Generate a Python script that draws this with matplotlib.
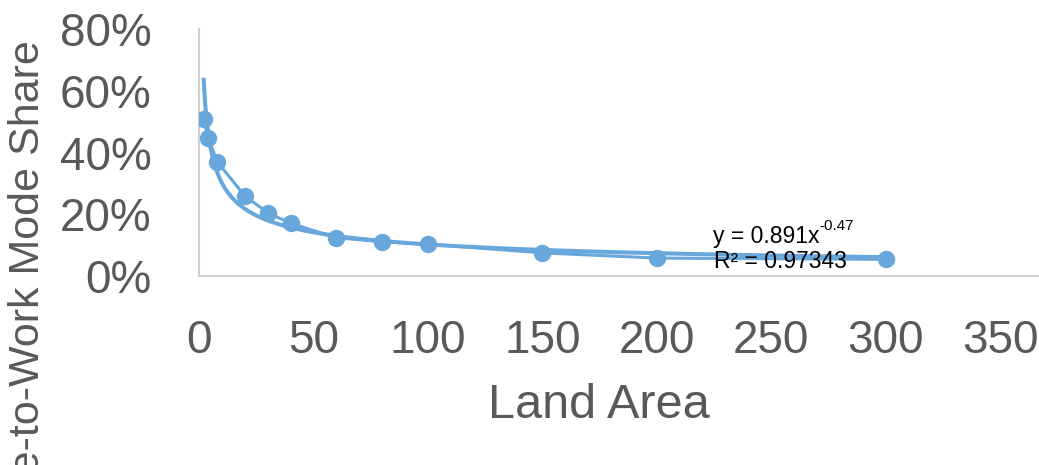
#!/usr/bin/env python3
# Mode share vs land area, with power-law trendline (Excel-style scatter).

import matplotlib
matplotlib.use("Agg")
import matplotlib.pyplot as plt
import numpy as np
from matplotlib.ticker import FuncFormatter

# --- Data ---
land_area = [2, 4, 8, 20, 30, 40, 60, 80, 100, 150, 200, 300]
mode_share = [0.509, 0.448, 0.370, 0.260, 0.205, 0.171, 0.124, 0.111,
              0.103, 0.075, 0.058, 0.054]

# Power trendline coefficients as printed on the chart
TREND_A = 0.891
TREND_B = -0.47
TREND_R2 = "0.97343"

x_ticks = [0, 50, 100, 150, 200, 250, 300, 350]
y_ticks = [0.0, 0.2, 0.4, 0.6, 0.8]

BLUE = "#67A7DC"
GREY = "#595959"
AXIS_GREY = "#D0D0D0"


def main():
    plt.rcParams["font.family"] = ["Liberation Sans", "DejaVu Sans"]

    fig = plt.figure(figsize=(10.39, 4.65), dpi=100)
    ax = fig.add_axes([0.1915, 0.4065, 0.8085, 0.5305])

    # trendline over the data range
    xt = np.linspace(min(land_area), max(land_area), 400)
    ax.plot(xt, TREND_A * xt ** TREND_B, color=BLUE, linewidth=2.9,
            solid_capstyle="butt", zorder=2)

    ax.plot(land_area, mode_share, color=BLUE, linewidth=2.2,
            marker="o", markersize=11.5, zorder=3)

    ax.set_xlim(0, 367)
    ax.set_ylim(0, 0.8)
    ax.set_xticks(x_ticks)
    ax.set_yticks(y_ticks)
    ax.yaxis.set_major_formatter(FuncFormatter(lambda v, _: f"{v * 100:.0f}%"))
    ax.tick_params(axis="both", length=0, labelsize=33, colors=GREY)
    ax.tick_params(axis="x", pad=31)
    ax.tick_params(axis="y", pad=34)

    for side in ("top", "right"):
        ax.spines[side].set_visible(False)
    for side in ("left", "bottom"):
        ax.spines[side].set_color(AXIS_GREY)
        ax.spines[side].set_linewidth(1.5)

    fig.text(0.576, 1 - 405 / 465, "Land Area", ha="center", va="center",
             fontsize=35, color=GREY)
    fig.text(0.027, 1 - 40 / 465, "Bike-to-Work Mode Share", rotation=90,
             ha="center", va="top", fontsize=31, color=GREY)

    # trendline label
    eq = fig.text(766 / 1039, 1 - 236 / 465, f"y = {TREND_A}x",
                  ha="center", va="center", fontsize=16.5, color="black")
    ax.annotate(f"{TREND_B}", xy=(1.0, 0.62), xycoords=eq,
                ha="left", va="bottom", fontsize=11, color="black")
    fig.text(780 / 1039, 1 - 261 / 465, f"R² = {TREND_R2}",
             ha="center", va="center", fontsize=16.5, color="black")

    fig.savefig("out.png", dpi=100)
    plt.close(fig)


if __name__ == "__main__":
    main()
